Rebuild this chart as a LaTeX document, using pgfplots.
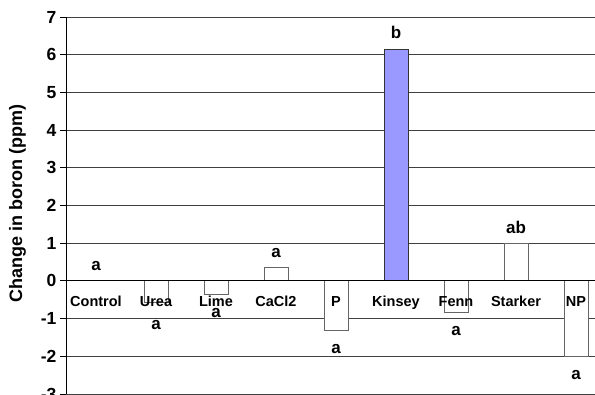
\documentclass[border=0pt]{standalone}
\usepackage{fontspec}
\setmainfont{Liberation Sans}
\usepackage{pgfplots}
\pgfplotsset{compat=1.18}
\pgfplotsset{
  layers/mylayers/.define layer set={
    axis background,axis grid,main,axis ticks,axis lines,axis tick labels,axis descriptions,axis foreground
  }{/pgfplots/layers/standard},
}
\definecolor{kin}{RGB}{153,153,255}
\begin{document}
\begin{tikzpicture}
\begin{axis}[
  set layers=mylayers,
  at={(66pt,1pt)}, anchor=south west,
  scale only axis, width=540pt, height=377pt,
  xmin=-0.5, xmax=8.5, ymin=-3, ymax=7,
  axis y line=left, axis x line=middle, axis line style={-, black, line width=1pt},
  tick align=outside,
  ytick={-3,-2,-1,0,1,2,3,4,5,6,7},
  yticklabels={-3,-2,-1,0,1,2,3,4,5,6,7},
  yticklabel style={font=\fontsize{17.5}{17.5}\selectfont\bfseries},
  major tick length=6pt,
  ytick style={black, line width=0.8pt},
  xtick={0,1,2,3,4,5,6,7,8},
  xticklabels={Control,Urea,Lime,CaCl2,P,Kinsey,Fenn,Starker,NP},
  xticklabel style={font=\fontsize{14.5}{14.5}\selectfont\bfseries, yshift=-6pt},
  xtick style={draw=none},
  minor xtick={-0.5,0.5,1.5,2.5,3.5,4.5,5.5,6.5,7.5,8.5},
  minor tick length=5pt,
  minor x tick style={black, line width=0.8pt},
  ymajorgrids, grid style={black!75, line width=0.8pt},
  ylabel={Change in boron (ppm)},
  ylabel style={at={(axis description cs:-0.0898,0.504)}, anchor=center, font=\fontsize{18}{18}\selectfont\bfseries},
]
\addplot[ybar, bar width=24pt, bar shift=0pt, draw=black!60, line width=0.8pt, fill=white]
  coordinates {(1,-0.56) (2,-0.35) (3,0.35) (4,-1.30) (6,-0.84) (7,1.0) (8,-2.0)};
\addplot[ybar, bar width=24pt, bar shift=0pt, draw=black!80, line width=0.8pt, fill=kin]
  coordinates {(5,6.15)};
\addplot[draw=none, mark=none, nodes near coords, point meta=explicit symbolic,
  nodes near coords align={center},
  every node near coord/.append style={font=\fontsize{17}{17}\selectfont\bfseries, inner sep=0pt}]
  table[meta=lab] {
x y lab
0 0.39 a
1 -1.16 a
2 -0.86 a
3 0.74 a
4 -1.80 a
5 6.58 b
6 -1.34 a
7 1.42 ab
8 -2.49 a
};
\end{axis}
\pgfresetboundingbox
\useasboundingbox (0pt,0pt) rectangle (595pt,395pt);
\end{tikzpicture}
\end{document}
